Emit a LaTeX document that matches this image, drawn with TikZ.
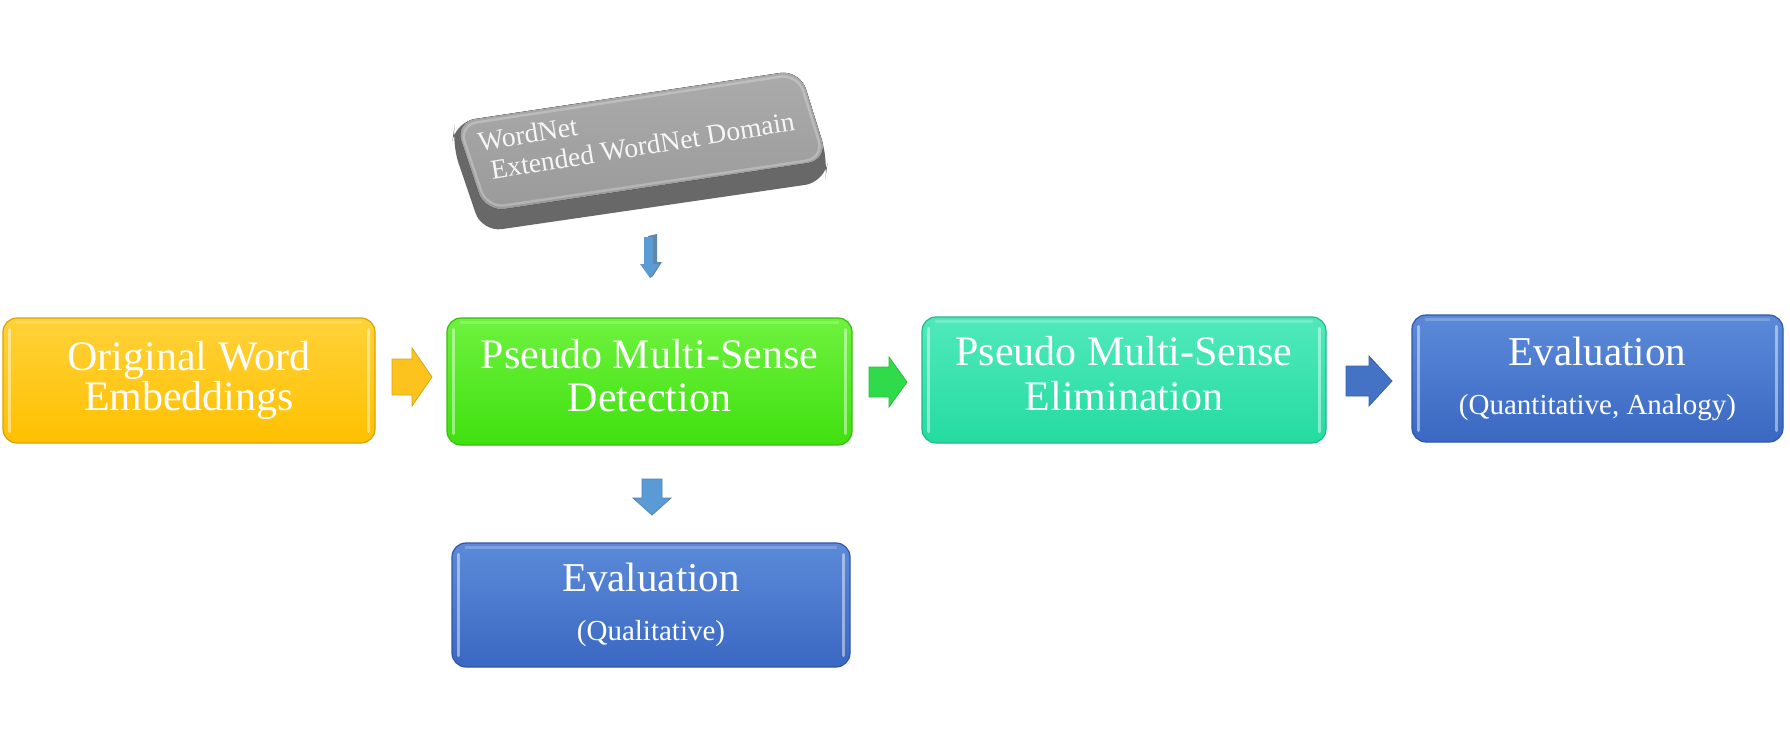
\documentclass[tikz,border=0pt]{standalone}
\usepackage{fontspec}
\setmainfont{Liberation Serif}
\usetikzlibrary{calc}
\definecolor{yTop}{HTML}{FFD23A}
\definecolor{yBot}{HTML}{FFC000}
\definecolor{gTop}{HTML}{6EF23E}
\definecolor{gBot}{HTML}{40E010}
\definecolor{tTop}{HTML}{50E9BC}
\definecolor{tBot}{HTML}{25DBA0}
\definecolor{bTop}{HTML}{5C8AD9}
\definecolor{bBot}{HTML}{3A68C2}
\definecolor{yArr}{HTML}{FCC21E}
\definecolor{gArr}{HTML}{2FDB4A}
\definecolor{bArr}{HTML}{4472C4}
\definecolor{lbArr}{HTML}{5B9BD5}
\definecolor{slabTop}{HTML}{ABABAB}
\definecolor{slabTopB}{HTML}{9A9A9A}
\definecolor{slabSide}{HTML}{686868}
\begin{document}
\begin{tikzpicture}[x=0.5pt,y=-0.5pt,
  box/.style={rounded corners=7pt, inner sep=0pt, align=center, text=white, line width=0.6pt},
  hl/.style={white, opacity=0.45, line width=1.5pt, line cap=round},
  mainfont/.style={font=\fontsize{21pt}{#1}\selectfont},
  evalfont/.style={font=\fontsize{20.5pt}{24.5pt}\selectfont},
  slabtxt/.style={text=white!93!gray, inner sep=0pt, align=left, font=\fontsize{13.8pt}{15pt}\selectfont, anchor=base west, rotate=9.2},
  arr/.style={fill=#1, draw=#1!85!black, line width=0.4pt}
]
\useasboundingbox (0,0) rectangle (1790,734);
\fill[white] (0,0) rectangle (1790,734);

% ---- grey slab (3D)
\fill[slabSide, rounded corners=10pt] (455,122) -- (800,70) -- (828,160) -- (825,182) -- (482,232) -- (452,144) -- cycle;
\fill[top color=slabTop, bottom color=slabTopB, rounded corners=10pt] (455,122) -- (800,70) -- (828,160) -- (485,212) -- cycle;
\draw[white, opacity=0.25, line width=1.2pt, rounded corners=9pt] (459,125) -- (798,74) -- (824,158) -- (487,208) -- cycle;
\node[slabtxt] (wn) at (484,181) {WordNet\\\hspace*{4pt}Extended WordNet Domain};

% thin 3D arrow
\fill[slabSide!40!lbArr] (648,236) -- (657,234) -- (657,262) -- (662,262) -- (653,276) -- (650,278) -- cycle;
\fill[lbArr] (644,237) -- (653,237) -- (653,264) -- (659,264) -- (650,278) -- (640,264) -- (644,264) -- cycle;

% ---- boxes
\node[box, mainfont=18pt, top color=yTop, bottom color=yBot, draw=yBot!85!black,
      minimum width=186pt, minimum height=62.5pt] (b1) at (189,380.5)
      {Original Word\\Embeddings};
\node[box, mainfont=21.5pt, top color=gTop, bottom color=gBot, draw=gBot!85!black,
      minimum width=202.5pt, minimum height=63.5pt] (b2) at (649.5,381.5)
      {Pseudo Multi-Sense\\Detection\strut};
\node[box, mainfont=22.5pt, top color=tTop, bottom color=tBot, draw=tBot!85!black,
      minimum width=202pt, minimum height=63pt] (b3) at (1124,380)
      {Pseudo Multi-Sense\\Elimination\strut};
\node[box, evalfont, top color=bTop, bottom color=bBot, draw=bBot!85!black,
      minimum width=185.5pt, minimum height=63.5pt] (b4) at (1597.5,378.5)
      {Evaluation\\{\fontsize{14.5pt}{17pt}\selectfont (Quantitative, Analogy)}};
\node[box, evalfont, top color=bTop, bottom color=bBot, draw=bBot!85!black,
      minimum width=199pt, minimum height=62pt] (b5) at (651,605)
      {Evaluation\\{\fontsize{14.5pt}{17pt}\selectfont (Qualitative)}};

% bevel highlights
\foreach \b in {b1,b2,b3,b4,b5}{
  \draw[hl] ($(\b.north west)+(7,12)$) -- ($(\b.south west)+(7,-12)$);
  \draw[hl] ($(\b.north east)+(-7,12)$) -- ($(\b.south east)+(-7,-12)$);
  \draw[white, opacity=0.2, line width=1.2pt] ($(\b.north west)+(14,5)$) -- ($(\b.north east)+(-14,5)$);
}

% ---- block arrows
\fill[arr=yArr] (392,359) -- (412,359) -- (412,348) -- (432,377) -- (412,406) -- (412,395) -- (392,395) -- cycle;
\fill[arr=gArr] (869,367) -- (889,367) -- (889,357) -- (907,382) -- (889,407) -- (889,397) -- (869,397) -- cycle;
\fill[arr=bArr] (1346,366) -- (1369,366) -- (1369,356) -- (1392,381) -- (1369,406) -- (1369,396) -- (1346,396) -- cycle;
\fill[arr=lbArr] (642,479) -- (662,479) -- (662,498) -- (671,498) -- (652,515) -- (633,498) -- (642,498) -- cycle;
\end{tikzpicture}
\end{document}
